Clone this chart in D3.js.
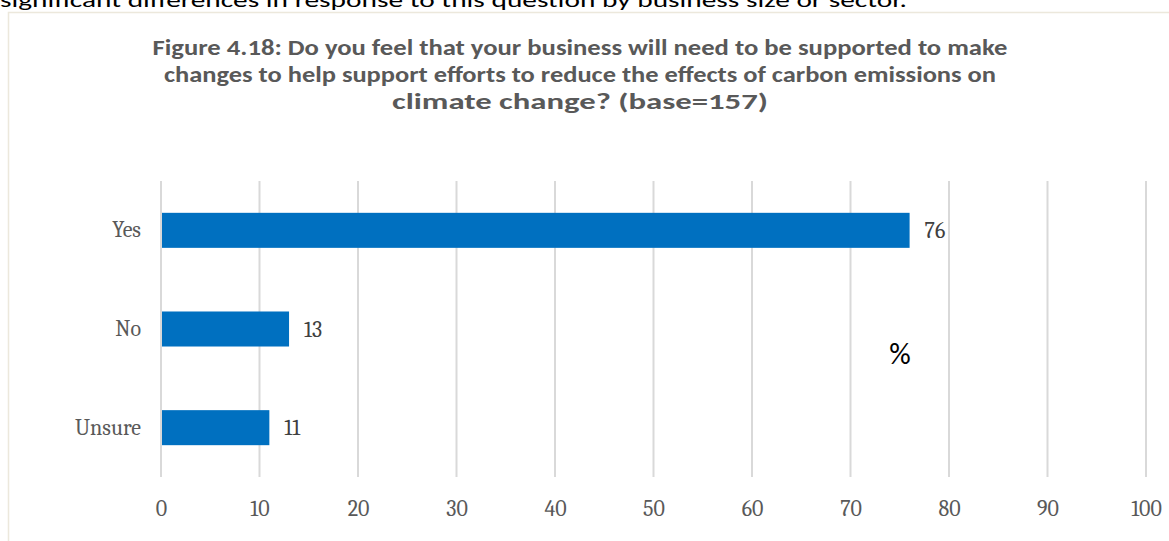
<!DOCTYPE html>
<html>
<head>
<meta charset="utf-8">
<script src="https://cdn.jsdelivr.net/npm/d3@7"></script>
<style>
  html, body { margin: 0; padding: 0; background: #fff; }
  svg { display: block; }
</style>
</head>
<body>
<svg id="chart" width="1169" height="541"></svg>
<script>
// Survey responses (percent of businesses)
const categories = ["Yes", "No", "Unsure"];
const values = [76, 13, 11];
const tickValues = [0, 10, 20, 30, 40, 50, 60, 70, 80, 90, 100];
const titleLines = [
  "Figure 4.18: Do you feel that your business will need to be supported to make",
  "changes to help support efforts to reduce the effects of carbon emissions on",
  "climate change? (base=157)"
];
const leadText = "significant differences in response to this question by business size or sector.";

const svg = d3.select("#chart");

// running text above the chart frame
svg.append("text")
  .attr("x", 0).attr("y", 7)
  .attr("font-family", "Carlito, 'Open Sans', sans-serif")
  .attr("font-size", 20)
  .attr("fill", "#000")
  .attr("textLength", 907)
  .attr("lengthAdjust", "spacingAndGlyphs")
  .text(leadText);

// chart area frame
svg.append("rect")
  .attr("x", 8.5).attr("y", 12.5)
  .attr("width", 1200).attr("height", 600)
  .attr("fill", "#fff")
  .attr("stroke", "#ECE8DC")
  .attr("stroke-width", 1.5);

// title
const titleWidths = [855, 832, 376];
svg.append("g").selectAll("text")
  .data(titleLines)
  .join("text")
  .attr("x", 580)
  .attr("y", (d, i) => 55 + i * 27)
  .attr("text-anchor", "middle")
  .attr("font-family", "Carlito, 'Open Sans', sans-serif")
  .attr("font-weight", "bold")
  .attr("font-size", 21.5)
  .attr("fill", "#595959")
  .attr("textLength", (d, i) => titleWidths[i])
  .attr("lengthAdjust", "spacingAndGlyphs")
  .text(d => d);

const x = d3.scaleLinear().domain([0, 100]).range([161, 1146]);
const y = d3.scaleBand().domain(categories).range([181, 477]).paddingInner(0.645).paddingOuter(0.3225);

// vertical gridlines
svg.append("g").selectAll("line")
  .data(tickValues)
  .join("line")
  .attr("x1", d => x(d)).attr("x2", d => x(d))
  .attr("y1", 181).attr("y2", 477)
  .attr("stroke", "#D9D9D9")
  .attr("stroke-width", 2);

// bars
svg.append("g").selectAll("rect")
  .data(categories)
  .join("rect")
  .attr("x", x(0) + 1)
  .attr("y", d => y(d))
  .attr("width", (d, i) => x(values[i]) - x(0) - 1)
  .attr("height", y.bandwidth())
  .attr("fill", "#0070C0");

const serif = "Cambria, Caladea, 'DejaVu Serif', serif";
const labelSize = 22;

// value labels
svg.append("g").selectAll("text")
  .data(categories)
  .join("text")
  .attr("x", (d, i) => x(values[i]) + 15)
  .attr("y", d => y(d) + y.bandwidth() / 2)
  .attr("dy", "0.35em")
  .attr("font-family", serif)
  .attr("font-size", labelSize)
  .attr("fill", "#404040")
  .text((d, i) => values[i]);

// category axis
const yAxis = svg.append("g")
  .attr("transform", "translate(161,0)")
  .call(d3.axisLeft(y).tickSize(0).tickPadding(20));
yAxis.select(".domain").remove();
yAxis.selectAll("text")
  .attr("font-family", serif)
  .attr("font-size", labelSize)
  .attr("fill", "#595959");

// value axis
const xAxis = svg.append("g")
  .attr("transform", "translate(0,477)")
  .call(d3.axisBottom(x).tickValues(tickValues).tickSize(0).tickPadding(23));
xAxis.select(".domain").remove();
xAxis.selectAll("text")
  .attr("font-family", serif)
  .attr("font-size", labelSize)
  .attr("fill", "#595959");

// unit marker
svg.append("text")
  .attr("x", 900).attr("y", 364)
  .attr("text-anchor", "middle")
  .attr("font-family", "Carlito, 'Open Sans', sans-serif")
  .attr("font-size", 30)
  .attr("fill", "#000")
  .text("%");
</script>
</body>
</html>
